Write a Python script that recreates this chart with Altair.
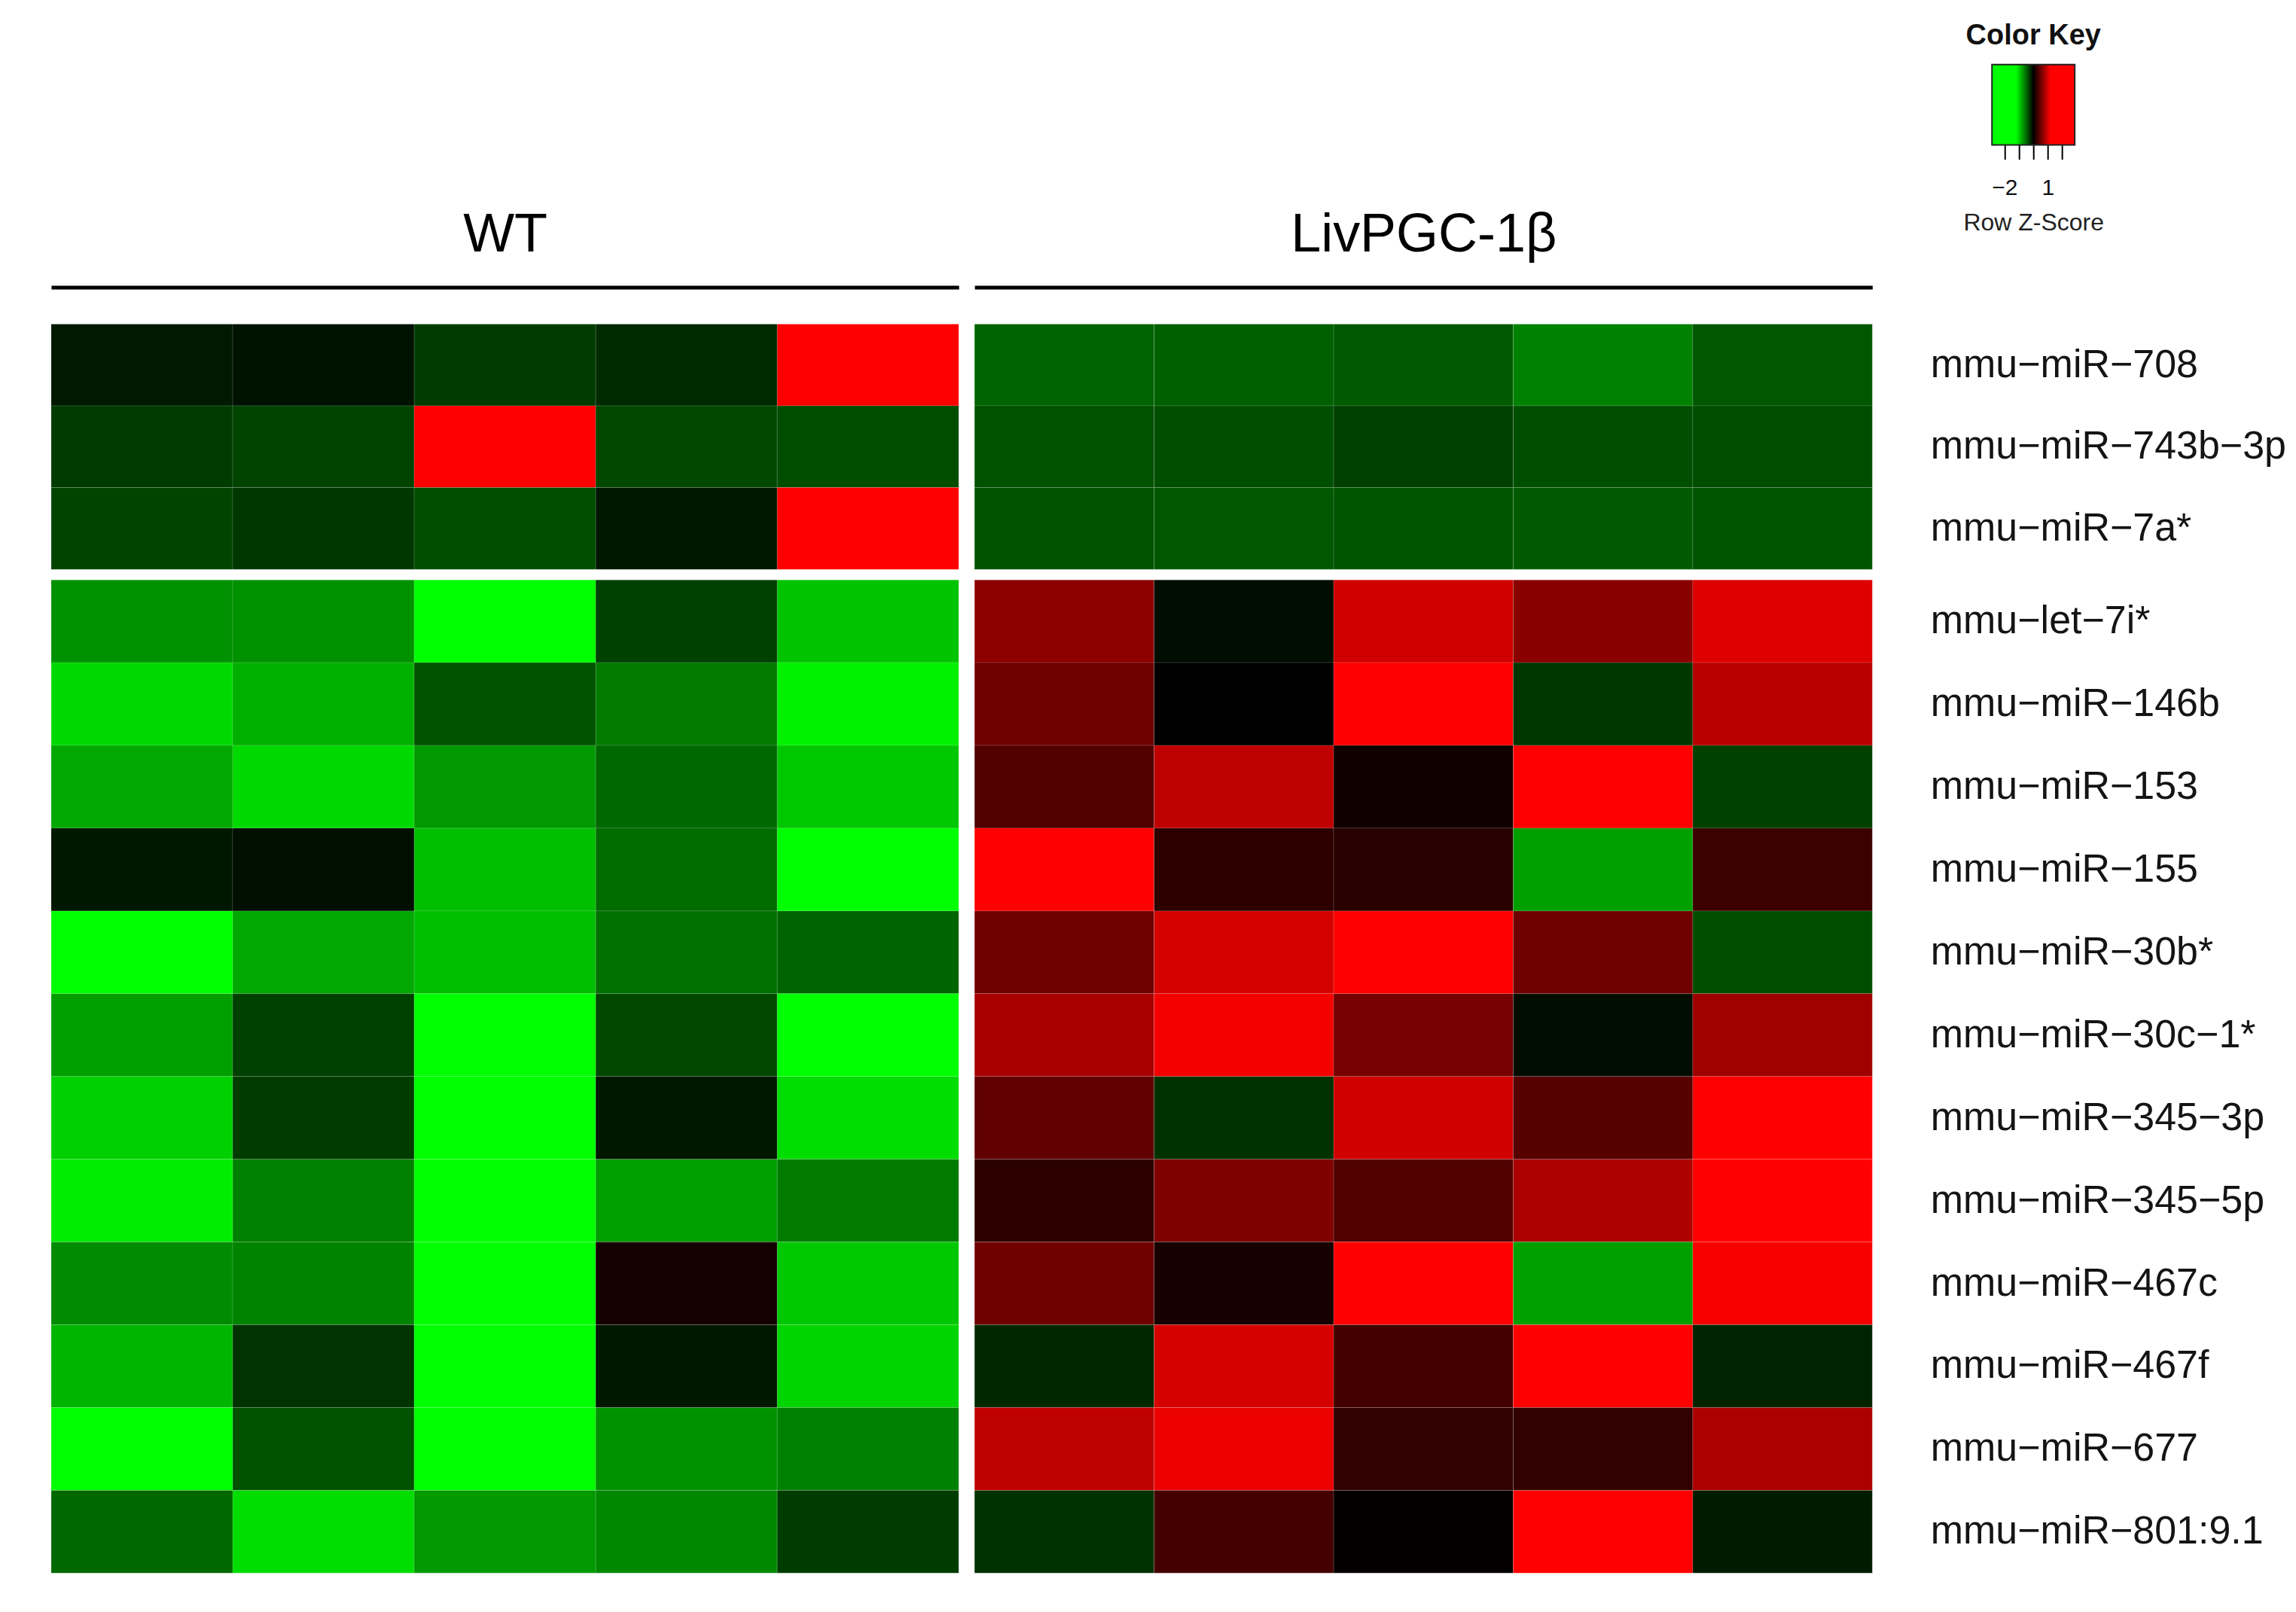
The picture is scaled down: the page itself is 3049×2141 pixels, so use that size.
import altair as alt
import pandas as pd

M = "\u2212"
ROWS_TOP = [f"mmu{M}miR{M}708", f"mmu{M}miR{M}743b{M}3p", f"mmu{M}miR{M}7a*"]
ROWS_BOTTOM = [
    f"mmu{M}let{M}7i*", f"mmu{M}miR{M}146b", f"mmu{M}miR{M}153", f"mmu{M}miR{M}155",
    f"mmu{M}miR{M}30b*", f"mmu{M}miR{M}30c{M}1*", f"mmu{M}miR{M}345{M}3p", f"mmu{M}miR{M}345{M}5p",
    f"mmu{M}miR{M}467c", f"mmu{M}miR{M}467f", f"mmu{M}miR{M}677", f"mmu{M}miR{M}801:9.1",
]
WT_SAMPLES = ["WT1", "WT2", "WT3", "WT4", "WT5"]
LIV_SAMPLES = ["LIV1", "LIV2", "LIV3", "LIV4", "LIV5"]
GROUP_TITLES = ["WT", "LivPGC-1\u03b2"]

# Row Z-scores
WT_TOP = [
    [-0.12, -0.09, -0.28, -0.20, 2.75],
    [-0.28, -0.32, 2.75, -0.34, -0.36],
    [-0.32, -0.26, -0.36, -0.11, 2.75],
]
LIV_TOP = [
    [-0.47, -0.45, -0.43, -0.61, -0.41],
    [-0.38, -0.37, -0.30, -0.37, -0.36],
    [-0.38, -0.41, -0.40, -0.43, -0.40],
]
WT_BOTTOM = [
    [-0.68, -0.68, -1.60, -0.30, -0.92],
    [-1.02, -0.83, -0.38, -0.58, -1.13],
    [-0.79, -1.02, -0.72, -0.49, -0.94],
    [-0.11, -0.07, -0.90, -0.51, -1.45],
    [-1.40, -0.79, -0.90, -0.53, -0.47],
    [-0.75, -0.30, -1.50, -0.34, -1.35],
    [-0.98, -0.28, -1.45, -0.11, -1.04],
    [-1.11, -0.60, -1.50, -0.75, -0.58],
    [-0.66, -0.62, -1.55, 0.09, -0.94],
    [-0.85, -0.24, -1.45, -0.11, -1.00],
    [-1.30, -0.38, -1.40, -0.68, -0.60],
    [-0.49, -1.04, -0.72, -0.64, -0.28],
]
LIV_BOTTOM = [
    [0.66, -0.06, 0.98, 0.65, 1.04],
    [0.53, 0.00, 1.45, -0.26, 0.87],
    [0.38, 0.90, 0.08, 1.40, -0.30],
    [1.55, 0.21, 0.19, -0.75, 0.28],
    [0.53, 1.00, 1.35, 0.53, -0.36],
    [0.79, 1.15, 0.56, -0.06, 0.75],
    [0.45, -0.23, 0.98, 0.41, 1.45],
    [0.21, 0.60, 0.38, 0.81, 1.40],
    [0.53, 0.11, 1.50, -0.75, 1.17],
    [-0.19, 1.00, 0.32, 1.45, -0.17],
    [0.90, 1.11, 0.23, 0.23, 0.81],
    [-0.23, 0.32, 0.02, 1.50, -0.13],
]

# colour key
KEY_DOMAIN = [-2.87, -1.2, 0.0, 1.2, 2.87]
KEY_COLORS = ["#00ff00", "#00ff00", "#000000", "#ff0000", "#ff0000"]
KEY_TICKS = [-2, -1, 0, 1, 2]
KEY_LABELED = [-2, 1]

SANS = "Liberation Sans, Arial, sans-serif"
NARROW = "Liberation Sans Narrow, Arial Narrow, Liberation Sans, sans-serif"

color_scale = alt.Scale(domain=KEY_DOMAIN, range=KEY_COLORS, interpolate="rgb", clamp=True)
NO_VIEW = alt.ViewBackground(stroke="transparent", strokeWidth=0, fill="transparent")


def long_df(rows, samples, values):
    recs = []
    for r, row in zip(rows, values):
        for s, v in zip(samples, row):
            recs.append({"mirna": r, "sample": s, "z": v})
    return pd.DataFrame(recs)


def heat(rows, samples, values, width, height, title=None, labels=False):
    if title is not None:
        x_axis = alt.Axis(orient="top", title=title, labels=False, ticks=False, grid=False,
                          domain=True, domainColor="#000000", domainWidth=5, offset=49,
                          titleFont=NARROW, titleFontSize=72, titleFontWeight="normal",
                          titleColor="#000000", titlePadding=33)
    else:
        x_axis = None
    if labels:
        y_axis = alt.Axis(orient="right", title=None, ticks=False, domain=False, grid=False,
                          labelPadding=77, labelFont=SANS, labelFontSize=52,
                          labelColor="#141414", labelLimit=1000)
    else:
        y_axis = None
    return alt.Chart(long_df(rows, samples, values)).mark_rect(
        stroke="#ffffff", strokeWidth=1, strokeOpacity=0.15
    ).encode(
        x=alt.X("sample:N", sort=samples, scale=alt.Scale(domain=samples), axis=x_axis),
        y=alt.Y("mirna:N", sort=rows, scale=alt.Scale(domain=rows), axis=y_axis),
        color=alt.Color("z:Q", scale=color_scale, legend=None),
        tooltip=["mirna:N", "sample:N", "z:Q"],
    ).properties(width=width, height=height, view=NO_VIEW)


W_WT, W_LIV = 1206, 1193
H_TOP, H_BOT = 326, 1320

top_row = alt.hconcat(
    heat(ROWS_TOP, WT_SAMPLES, WT_TOP, W_WT, H_TOP, title=GROUP_TITLES[0]),
    heat(ROWS_TOP, LIV_SAMPLES, LIV_TOP, W_LIV, H_TOP, title=GROUP_TITLES[1], labels=True),
    spacing=19,
)
bottom_row = alt.hconcat(
    heat(ROWS_BOTTOM, WT_SAMPLES, WT_BOTTOM, W_WT, H_BOT),
    heat(ROWS_BOTTOM, LIV_SAMPLES, LIV_BOTTOM, W_LIV, H_BOT, labels=True),
    spacing=19,
)
heat_block = alt.vconcat(top_row, bottom_row, spacing=12)

lo, hi = KEY_DOMAIN[0], KEY_DOMAIN[-1]
stops = [alt.GradientStop(color=c, offset=(d - lo) / (hi - lo)) for d, c in zip(KEY_DOMAIN, KEY_COLORS)]
label_test = " || ".join(f"datum.value == {v}" for v in KEY_LABELED)
key = alt.Chart(pd.DataFrame({"lo": [lo], "hi": [hi]})).mark_rect(
    fill=alt.Gradient(gradient="linear", stops=stops, x1=0, x2=1, y1=0, y2=0),
    stroke="#222222", strokeWidth=2,
).encode(
    x=alt.X("lo:Q", scale=alt.Scale(domain=[lo, hi], nice=False, zero=False),
            axis=alt.Axis(values=KEY_TICKS, labelExpr=f"({label_test}) ? datum.label : ''",
                          ticks=True, tickSize=19, tickWidth=2, tickColor="#000000",
                          domain=False, grid=False, labelFont=SANS, labelFontSize=30,
                          labelColor="#111111", labelPadding=23, labelFlush=False,
                          title="Row Z-Score", titleFont=SANS, titleFontSize=32,
                          titleFontWeight="normal", titleColor="#222222", titlePadding=16)),
    x2="hi:Q",
).properties(
    width=110, height=107, view=NO_VIEW,
    title=alt.TitleParams("Color Key", font=SANS, fontSize=38, fontWeight="bold",
                          color="#111111", anchor="middle", offset=18),
)

spacer = alt.Chart(pd.DataFrame({"s": [""]})).mark_text(opacity=0).encode(
    text="s:N"
).properties(width=2520, height=2, view=NO_VIEW)

key_row = alt.hconcat(spacer, key, spacing=20)

chart = alt.vconcat(key_row, heat_block, spacing=-36).properties(
    padding={"left": 59, "top": 20, "right": 5, "bottom": 5}
).configure_view(strokeWidth=0, strokeOpacity=0, fillOpacity=0).configure(background="#ffffff")

chart.save("out.html", embed_options={"renderer": "svg", "actions": False})
